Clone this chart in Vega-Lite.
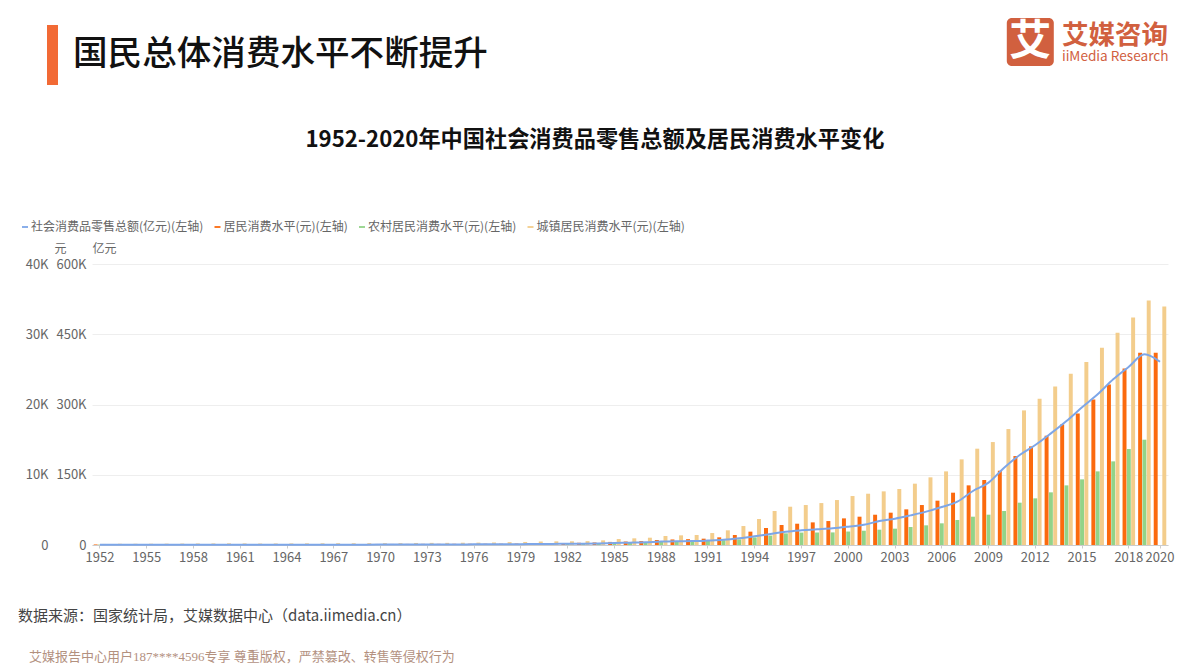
{
  "$schema": "https://vega.github.io/schema/vega-lite/v6.json",
  "autosize": {"type": "none"},
  "padding": {"left": 92, "top": 264, "right": 22, "bottom": 124},
  "width": 1076,
  "height": 281,
  "background": "#ffffff",
  "config": {
    "font": "Noto Sans CJK SC",
    "view": {"stroke": null}
  },
  "datasets": {
    "bars": [
      {"year":1952,"series":"居民消费水平(元)(左轴)","value":80},{"year":1953,"series":"居民消费水平(元)(左轴)","value":91},{"year":1954,"series":"居民消费水平(元)(左轴)","value":92},{"year":1955,"series":"居民消费水平(元)(左轴)","value":99},{"year":1956,"series":"居民消费水平(元)(左轴)","value":104},{"year":1957,"series":"居民消费水平(元)(左轴)","value":108},{"year":1958,"series":"居民消费水平(元)(左轴)","value":111},{"year":1959,"series":"居民消费水平(元)(左轴)","value":107},{"year":1960,"series":"居民消费水平(元)(左轴)","value":114},{"year":1961,"series":"居民消费水平(元)(左轴)","value":123},{"year":1962,"series":"居民消费水平(元)(左轴)","value":123},{"year":1963,"series":"居民消费水平(元)(左轴)","value":121},{"year":1964,"series":"居民消费水平(元)(左轴)","value":122},{"year":1965,"series":"居民消费水平(元)(左轴)","value":129},{"year":1966,"series":"居民消费水平(元)(左轴)","value":135},{"year":1967,"series":"居民消费水平(元)(左轴)","value":140},{"year":1968,"series":"居民消费水平(元)(左轴)","value":135},{"year":1969,"series":"居民消费水平(元)(左轴)","value":141},{"year":1970,"series":"居民消费水平(元)(左轴)","value":147},{"year":1971,"series":"居民消费水平(元)(左轴)","value":149},{"year":1972,"series":"居民消费水平(元)(左轴)","value":156},{"year":1973,"series":"居民消费水平(元)(左轴)","value":163},{"year":1974,"series":"居民消费水平(元)(左轴)","value":165},{"year":1975,"series":"居民消费水平(元)(左轴)","value":171},{"year":1976,"series":"居民消费水平(元)(左轴)","value":177},{"year":1977,"series":"居民消费水平(元)(左轴)","value":181},{"year":1978,"series":"居民消费水平(元)(左轴)","value":184},{"year":1979,"series":"居民消费水平(元)(左轴)","value":208},{"year":1980,"series":"居民消费水平(元)(左轴)","value":238},{"year":1981,"series":"居民消费水平(元)(左轴)","value":264},{"year":1982,"series":"居民消费水平(元)(左轴)","value":288},{"year":1983,"series":"居民消费水平(元)(左轴)","value":316},{"year":1984,"series":"居民消费水平(元)(左轴)","value":361},{"year":1985,"series":"居民消费水平(元)(左轴)","value":440},{"year":1986,"series":"居民消费水平(元)(左轴)","value":497},{"year":1987,"series":"居民消费水平(元)(左轴)","value":565},{"year":1988,"series":"居民消费水平(元)(左轴)","value":714},{"year":1989,"series":"居民消费水平(元)(左轴)","value":788},{"year":1990,"series":"居民消费水平(元)(左轴)","value":831},{"year":1991,"series":"居民消费水平(元)(左轴)","value":900},{"year":1992,"series":"居民消费水平(元)(左轴)","value":1090},{"year":1993,"series":"居民消费水平(元)(左轴)","value":1420},{"year":1994,"series":"居民消费水平(元)(左轴)","value":1900},{"year":1995,"series":"居民消费水平(元)(左轴)","value":2420},{"year":1996,"series":"居民消费水平(元)(左轴)","value":2845},{"year":1997,"series":"居民消费水平(元)(左轴)","value":3030},{"year":1998,"series":"居民消费水平(元)(左轴)","value":3220},{"year":1999,"series":"居民消费水平(元)(左轴)","value":3410},{"year":2000,"series":"居民消费水平(元)(左轴)","value":3790},{"year":2001,"series":"居民消费水平(元)(左轴)","value":4030},{"year":2002,"series":"居民消费水平(元)(左轴)","value":4310},{"year":2003,"series":"居民消费水平(元)(左轴)","value":4600},{"year":2004,"series":"居民消费水平(元)(左轴)","value":5075},{"year":2005,"series":"居民消费水平(元)(左轴)","value":5690},{"year":2006,"series":"居民消费水平(元)(左轴)","value":6310},{"year":2007,"series":"居民消费水平(元)(左轴)","value":7447},{"year":2008,"series":"居民消费水平(元)(左轴)","value":8490},{"year":2009,"series":"居民消费水平(元)(左轴)","value":9250},{"year":2010,"series":"居民消费水平(元)(左轴)","value":10577},{"year":2011,"series":"居民消费水平(元)(左轴)","value":12664},{"year":2012,"series":"居民消费水平(元)(左轴)","value":14040},{"year":2013,"series":"居民消费水平(元)(左轴)","value":15557},{"year":2014,"series":"居民消费水平(元)(左轴)","value":17170},{"year":2015,"series":"居民消费水平(元)(左轴)","value":18735},{"year":2016,"series":"居民消费水平(元)(左轴)","value":20727},{"year":2017,"series":"居民消费水平(元)(左轴)","value":22862},{"year":2018,"series":"居民消费水平(元)(左轴)","value":25140},{"year":2019,"series":"居民消费水平(元)(左轴)","value":27370},{"year":2020,"series":"居民消费水平(元)(左轴)","value":27370},
      {"year":1952,"series":"农村居民消费水平(元)(左轴)","value":65},{"year":1953,"series":"农村居民消费水平(元)(左轴)","value":72},{"year":1954,"series":"农村居民消费水平(元)(左轴)","value":72},{"year":1955,"series":"农村居民消费水平(元)(左轴)","value":76},{"year":1956,"series":"农村居民消费水平(元)(左轴)","value":78},{"year":1957,"series":"农村居民消费水平(元)(左轴)","value":79},{"year":1958,"series":"农村居民消费水平(元)(左轴)","value":83},{"year":1959,"series":"农村居民消费水平(元)(左轴)","value":65},{"year":1960,"series":"农村居民消费水平(元)(左轴)","value":68},{"year":1961,"series":"农村居民消费水平(元)(左轴)","value":82},{"year":1962,"series":"农村居民消费水平(元)(左轴)","value":88},{"year":1963,"series":"农村居民消费水平(元)(左轴)","value":89},{"year":1964,"series":"农村居民消费水平(元)(左轴)","value":95},{"year":1965,"series":"农村居民消费水平(元)(左轴)","value":100},{"year":1966,"series":"农村居民消费水平(元)(左轴)","value":106},{"year":1967,"series":"农村居民消费水平(元)(左轴)","value":110},{"year":1968,"series":"农村居民消费水平(元)(左轴)","value":105},{"year":1969,"series":"农村居民消费水平(元)(左轴)","value":108},{"year":1970,"series":"农村居民消费水平(元)(左轴)","value":114},{"year":1971,"series":"农村居民消费水平(元)(左轴)","value":116},{"year":1972,"series":"农村居民消费水平(元)(左轴)","value":116},{"year":1973,"series":"农村居民消费水平(元)(左轴)","value":123},{"year":1974,"series":"农村居民消费水平(元)(左轴)","value":123},{"year":1975,"series":"农村居民消费水平(元)(左轴)","value":124},{"year":1976,"series":"农村居民消费水平(元)(左轴)","value":125},{"year":1977,"series":"农村居民消费水平(元)(左轴)","value":124},{"year":1978,"series":"农村居民消费水平(元)(左轴)","value":138},{"year":1979,"series":"农村居民消费水平(元)(左轴)","value":159},{"year":1980,"series":"农村居民消费水平(元)(左轴)","value":178},{"year":1981,"series":"农村居民消费水平(元)(左轴)","value":201},{"year":1982,"series":"农村居民消费水平(元)(左轴)","value":223},{"year":1983,"series":"农村居民消费水平(元)(左轴)","value":250},{"year":1984,"series":"农村居民消费水平(元)(左轴)","value":287},{"year":1985,"series":"农村居民消费水平(元)(左轴)","value":347},{"year":1986,"series":"农村居民消费水平(元)(左轴)","value":376},{"year":1987,"series":"农村居民消费水平(元)(左轴)","value":417},{"year":1988,"series":"农村居民消费水平(元)(左轴)","value":508},{"year":1989,"series":"农村居民消费水平(元)(左轴)","value":553},{"year":1990,"series":"农村居民消费水平(元)(左轴)","value":560},{"year":1991,"series":"农村居民消费水平(元)(左轴)","value":602},{"year":1992,"series":"农村居民消费水平(元)(左轴)","value":688},{"year":1993,"series":"农村居民消费水平(元)(左轴)","value":805},{"year":1994,"series":"农村居民消费水平(元)(左轴)","value":1087},{"year":1995,"series":"农村居民消费水平(元)(左轴)","value":1344},{"year":1996,"series":"农村居民消费水平(元)(左轴)","value":1655},{"year":1997,"series":"农村居民消费水平(元)(左轴)","value":1768},{"year":1998,"series":"农村居民消费水平(元)(左轴)","value":1778},{"year":1999,"series":"农村居民消费水平(元)(左轴)","value":1793},{"year":2000,"series":"农村居民消费水平(元)(左轴)","value":1917},{"year":2001,"series":"农村居民消费水平(元)(左轴)","value":2032},{"year":2002,"series":"农村居民消费水平(元)(左轴)","value":2180},{"year":2003,"series":"农村居民消费水平(元)(左轴)","value":2325},{"year":2004,"series":"农村居民消费水平(元)(左轴)","value":2560},{"year":2005,"series":"农村居民消费水平(元)(左轴)","value":2800},{"year":2006,"series":"农村居民消费水平(元)(左轴)","value":3085},{"year":2007,"series":"农村居民消费水平(元)(左轴)","value":3555},{"year":2008,"series":"农村居民消费水平(元)(左轴)","value":4030},{"year":2009,"series":"农村居民消费水平(元)(左轴)","value":4315},{"year":2010,"series":"农村居民消费水平(元)(左轴)","value":4840},{"year":2011,"series":"农村居民消费水平(元)(左轴)","value":6025},{"year":2012,"series":"农村居民消费水平(元)(左轴)","value":6640},{"year":2013,"series":"农村居民消费水平(元)(左轴)","value":7495},{"year":2014,"series":"农村居民消费水平(元)(左轴)","value":8490},{"year":2015,"series":"农村居民消费水平(元)(左轴)","value":9345},{"year":2016,"series":"农村居民消费水平(元)(左轴)","value":10480},{"year":2017,"series":"农村居民消费水平(元)(左轴)","value":11905},{"year":2018,"series":"农村居民消费水平(元)(左轴)","value":13660},{"year":2019,"series":"农村居民消费水平(元)(左轴)","value":14990},
      {"year":1952,"series":"城镇居民消费水平(元)(左轴)","value":149},{"year":1953,"series":"城镇居民消费水平(元)(左轴)","value":181},{"year":1954,"series":"城镇居民消费水平(元)(左轴)","value":180},{"year":1955,"series":"城镇居民消费水平(元)(左轴)","value":183},{"year":1956,"series":"城镇居民消费水平(元)(左轴)","value":196},{"year":1957,"series":"城镇居民消费水平(元)(左轴)","value":205},{"year":1958,"series":"城镇居民消费水平(元)(左轴)","value":218},{"year":1959,"series":"城镇居民消费水平(元)(左轴)","value":225},{"year":1960,"series":"城镇居民消费水平(元)(左轴)","value":237},{"year":1961,"series":"城镇居民消费水平(元)(左轴)","value":229},{"year":1962,"series":"城镇居民消费水平(元)(左轴)","value":211},{"year":1963,"series":"城镇居民消费水平(元)(左轴)","value":221},{"year":1964,"series":"城镇居民消费水平(元)(左轴)","value":229},{"year":1965,"series":"城镇居民消费水平(元)(左轴)","value":237},{"year":1966,"series":"城镇居民消费水平(元)(左轴)","value":243},{"year":1967,"series":"城镇居民消费水平(元)(左轴)","value":255},{"year":1968,"series":"城镇居民消费水平(元)(左轴)","value":250},{"year":1969,"series":"城镇居民消费水平(元)(左轴)","value":262},{"year":1970,"series":"城镇居民消费水平(元)(左轴)","value":260},{"year":1971,"series":"城镇居民消费水平(元)(左轴)","value":267},{"year":1972,"series":"城镇居民消费水平(元)(左轴)","value":290},{"year":1973,"series":"城镇居民消费水平(元)(左轴)","value":304},{"year":1974,"series":"城镇居民消费水平(元)(左轴)","value":305},{"year":1975,"series":"城镇居民消费水平(元)(左轴)","value":324},{"year":1976,"series":"城镇居民消费水平(元)(左轴)","value":340},{"year":1977,"series":"城镇居民消费水平(元)(左轴)","value":360},{"year":1978,"series":"城镇居民消费水平(元)(左轴)","value":405},{"year":1979,"series":"城镇居民消费水平(元)(左轴)","value":434},{"year":1980,"series":"城镇居民消费水平(元)(左轴)","value":496},{"year":1981,"series":"城镇居民消费水平(元)(左轴)","value":520},{"year":1982,"series":"城镇居民消费水平(元)(左轴)","value":526},{"year":1983,"series":"城镇居民消费水平(元)(左轴)","value":547},{"year":1984,"series":"城镇居民消费水平(元)(左轴)","value":660},{"year":1985,"series":"城镇居民消费水平(元)(左轴)","value":850},{"year":1986,"series":"城镇居民消费水平(元)(左轴)","value":950},{"year":1987,"series":"城镇居民消费水平(元)(左轴)","value":1040},{"year":1988,"series":"城镇居民消费水平(元)(左轴)","value":1280},{"year":1989,"series":"城镇居民消费水平(元)(左轴)","value":1375},{"year":1990,"series":"城镇居民消费水平(元)(左轴)","value":1420},{"year":1991,"series":"城镇居民消费水平(元)(左轴)","value":1700},{"year":1992,"series":"城镇居民消费水平(元)(左轴)","value":2090},{"year":1993,"series":"城镇居民消费水平(元)(左轴)","value":2700},{"year":1994,"series":"城镇居民消费水平(元)(左轴)","value":3700},{"year":1995,"series":"城镇居民消费水平(元)(左轴)","value":4840},{"year":1996,"series":"城镇居民消费水平(元)(左轴)","value":5450},{"year":1997,"series":"城镇居民消费水平(元)(左轴)","value":5690},{"year":1998,"series":"城镇居民消费水平(元)(左轴)","value":5970},{"year":1999,"series":"城镇居民消费水平(元)(左轴)","value":6400},{"year":2000,"series":"城镇居民消费水平(元)(左轴)","value":6970},{"year":2001,"series":"城镇居民消费水平(元)(左轴)","value":7300},{"year":2002,"series":"城镇居民消费水平(元)(左轴)","value":7635},{"year":2003,"series":"城镇居民消费水平(元)(左轴)","value":7970},{"year":2004,"series":"城镇居民消费水平(元)(左轴)","value":8730},{"year":2005,"series":"城镇居民消费水平(元)(左轴)","value":9630},{"year":2006,"series":"城镇居民消费水平(元)(左轴)","value":10480},{"year":2007,"series":"城镇居民消费水平(元)(左轴)","value":12190},{"year":2008,"series":"城镇居民消费水平(元)(左轴)","value":13710},{"year":2009,"series":"城镇居民消费水平(元)(左轴)","value":14655},{"year":2010,"series":"城镇居民消费水平(元)(左轴)","value":16505},{"year":2011,"series":"城镇居民消费水平(元)(左轴)","value":19160},{"year":2012,"series":"城镇居民消费水平(元)(左轴)","value":20820},{"year":2013,"series":"城镇居民消费水平(元)(左轴)","value":22575},{"year":2014,"series":"城镇居民消费水平(元)(左轴)","value":24380},{"year":2015,"series":"城镇居民消费水平(元)(左轴)","value":26040},{"year":2016,"series":"城镇居民消费水平(元)(左轴)","value":28080},{"year":2017,"series":"城镇居民消费水平(元)(左轴)","value":30210},{"year":2018,"series":"城镇居民消费水平(元)(左轴)","value":32395},{"year":2019,"series":"城镇居民消费水平(元)(左轴)","value":34810},{"year":2020,"series":"城镇居民消费水平(元)(左轴)","value":33960}
    ],
    "retail": [
      {"year":1952,"series":"社会消费品零售总额(亿元)(左轴)","value":277},{"year":1953,"series":"社会消费品零售总额(亿元)(左轴)","value":348},{"year":1954,"series":"社会消费品零售总额(亿元)(左轴)","value":381},{"year":1955,"series":"社会消费品零售总额(亿元)(左轴)","value":392},{"year":1956,"series":"社会消费品零售总额(亿元)(左轴)","value":461},{"year":1957,"series":"社会消费品零售总额(亿元)(左轴)","value":474},{"year":1958,"series":"社会消费品零售总额(亿元)(左轴)","value":548},{"year":1959,"series":"社会消费品零售总额(亿元)(左轴)","value":638},{"year":1960,"series":"社会消费品零售总额(亿元)(左轴)","value":696},{"year":1961,"series":"社会消费品零售总额(亿元)(左轴)","value":607},{"year":1962,"series":"社会消费品零售总额(亿元)(左轴)","value":604},{"year":1963,"series":"社会消费品零售总额(亿元)(左轴)","value":605},{"year":1964,"series":"社会消费品零售总额(亿元)(左轴)","value":638},{"year":1965,"series":"社会消费品零售总额(亿元)(左轴)","value":670},{"year":1966,"series":"社会消费品零售总额(亿元)(左轴)","value":732},{"year":1967,"series":"社会消费品零售总额(亿元)(左轴)","value":770},{"year":1968,"series":"社会消费品零售总额(亿元)(左轴)","value":737},{"year":1969,"series":"社会消费品零售总额(亿元)(左轴)","value":801},{"year":1970,"series":"社会消费品零售总额(亿元)(左轴)","value":859},{"year":1971,"series":"社会消费品零售总额(亿元)(左轴)","value":929},{"year":1972,"series":"社会消费品零售总额(亿元)(左轴)","value":1023},{"year":1973,"series":"社会消费品零售总额(亿元)(左轴)","value":1107},{"year":1974,"series":"社会消费品零售总额(亿元)(左轴)","value":1163},{"year":1975,"series":"社会消费品零售总额(亿元)(左轴)","value":1271},{"year":1976,"series":"社会消费品零售总额(亿元)(左轴)","value":1339},{"year":1977,"series":"社会消费品零售总额(亿元)(左轴)","value":1433},{"year":1978,"series":"社会消费品零售总额(亿元)(左轴)","value":1559},{"year":1979,"series":"社会消费品零售总额(亿元)(左轴)","value":1800},{"year":1980,"series":"社会消费品零售总额(亿元)(左轴)","value":2140},{"year":1981,"series":"社会消费品零售总额(亿元)(左轴)","value":2350},{"year":1982,"series":"社会消费品零售总额(亿元)(左轴)","value":2570},{"year":1983,"series":"社会消费品零售总额(亿元)(左轴)","value":2849},{"year":1984,"series":"社会消费品零售总额(亿元)(左轴)","value":3376},{"year":1985,"series":"社会消费品零售总额(亿元)(左轴)","value":4305},{"year":1986,"series":"社会消费品零售总额(亿元)(左轴)","value":4950},{"year":1987,"series":"社会消费品零售总额(亿元)(左轴)","value":5820},{"year":1988,"series":"社会消费品零售总额(亿元)(左轴)","value":7440},{"year":1989,"series":"社会消费品零售总额(亿元)(左轴)","value":8101},{"year":1990,"series":"社会消费品零售总额(亿元)(左轴)","value":8300},{"year":1991,"series":"社会消费品零售总额(亿元)(左轴)","value":9416},{"year":1992,"series":"社会消费品零售总额(亿元)(左轴)","value":10994},{"year":1993,"series":"社会消费品零售总额(亿元)(左轴)","value":14270},{"year":1994,"series":"社会消费品零售总额(亿元)(左轴)","value":18623},{"year":1995,"series":"社会消费品零售总额(亿元)(左轴)","value":23614},{"year":1996,"series":"社会消费品零售总额(亿元)(左轴)","value":28360},{"year":1997,"series":"社会消费品零售总额(亿元)(左轴)","value":31253},{"year":1998,"series":"社会消费品零售总额(亿元)(左轴)","value":33378},{"year":1999,"series":"社会消费品零售总额(亿元)(左轴)","value":35648},{"year":2000,"series":"社会消费品零售总额(亿元)(左轴)","value":39106},{"year":2001,"series":"社会消费品零售总额(亿元)(左轴)","value":43055},{"year":2002,"series":"社会消费品零售总额(亿元)(左轴)","value":51200},{"year":2003,"series":"社会消费品零售总额(亿元)(左轴)","value":56200},{"year":2004,"series":"社会消费品零售总额(亿元)(左轴)","value":63300},{"year":2005,"series":"社会消费品零售总额(亿元)(左轴)","value":71200},{"year":2006,"series":"社会消费品零售总额(亿元)(左轴)","value":81100},{"year":2007,"series":"社会消费品零售总额(亿元)(左轴)","value":92500},{"year":2008,"series":"社会消费品零售总额(亿元)(左轴)","value":115300},{"year":2009,"series":"社会消费品零售总额(亿元)(左轴)","value":133100},{"year":2010,"series":"社会消费品零售总额(亿元)(左轴)","value":165100},{"year":2011,"series":"社会消费品零售总额(亿元)(左轴)","value":192200},{"year":2012,"series":"社会消费品零售总额(亿元)(左轴)","value":213500},{"year":2013,"series":"社会消费品零售总额(亿元)(左轴)","value":238400},{"year":2014,"series":"社会消费品零售总额(亿元)(左轴)","value":264800},{"year":2015,"series":"社会消费品零售总额(亿元)(左轴)","value":293900},{"year":2016,"series":"社会消费品零售总额(亿元)(左轴)","value":321700},{"year":2017,"series":"社会消费品零售总额(亿元)(左轴)","value":353700},{"year":2018,"series":"社会消费品零售总额(亿元)(左轴)","value":380800},{"year":2019,"series":"社会消费品零售总额(亿元)(左轴)","value":407100},{"year":2020,"series":"社会消费品零售总额(亿元)(左轴)","value":391400}
    ]
  },
  "layer": [
    {
      "layer": [
        {
          "data": {"name": "bars"},
          "mark": {"type": "bar"},
          "encoding": {
            "x": {
              "field": "year",
              "type": "ordinal",
              "scale": {"paddingInner": 0.17, "paddingOuter": 0.098},
              "axis": {
                "title": null,
                "values": [1952,1955,1958,1961,1964,1967,1970,1973,1976,1979,1982,1985,1988,1991,1994,1997,2000,2003,2006,2009,2012,2015,2018,2020],
                "labelAngle": 0,
                "labelFontSize": 13,
                "labelColor": "#666666",
                "labelOverlap": false,
                "labelPadding": 3,
                "tickColor": "#cccccc",
                "tickSize": 3,
                "domainColor": "#cccccc",
                "grid": false
              }
            },
            "xOffset": {
              "field": "series",
              "type": "nominal",
              "scale": {
                "domain": ["居民消费水平(元)(左轴)", "农村居民消费水平(元)(左轴)", "城镇居民消费水平(元)(左轴)"],
                "paddingInner": 0.08,
                "paddingOuter": 0.045
              }
            },
            "y": {
              "field": "value",
              "type": "quantitative",
              "scale": {"domain": [0, 40000], "nice": false},
              "axis": {
                "title": "元",
                "titleAngle": 0,
                "titleX": 6,
                "titleY": -16,
                "titleAlign": "center",
                "titleBaseline": "middle",
                "titleFontSize": 12,
                "titleFontWeight": "normal",
                "titleColor": "#666666",
                "values": [0, 10000, 20000, 30000, 40000],
                "labelExpr": "datum.value === 0 ? '0' : datum.value / 1000 + 'K'",
                "labelFontSize": 13,
                "labelColor": "#666666",
                "labelPadding": 6,
                "offset": 38,
                "domain": false,
                "ticks": false,
                "grid": true,
                "gridColor": "#eeeeee"
              }
            },
            "color": {
              "field": "series",
              "type": "nominal",
              "scale": {
                "domain": ["社会消费品零售总额(亿元)(左轴)", "居民消费水平(元)(左轴)", "农村居民消费水平(元)(左轴)", "城镇居民消费水平(元)(左轴)"],
                "range": ["#7da6e8", "#fb6a0e", "#93d388", "#f3cd8c"]
              },
              "legend": {
                "title": null,
                "orient": "none",
                "legendX": -73,
                "legendY": -43,
                "columns": 4,
                "columnPadding": 7.5,
                "symbolType": "M-1,-0.3H1V0.3H-1Z",
                "symbolSize": 36,
                "symbolStrokeWidth": 0,
                "labelFontSize": 12,
                "labelColor": "#666666",
                "labelOffset": 0,
                "labelLimit": 0,
                "padding": 0
              }
            }
          }
        },
        {
          "data": {"values": [{"label": "国民总体消费水平不断提升"}]},
          "mark": {"type": "text", "align": "left", "dx": -27, "fontSize": 34.6, "fontWeight": 500, "color": "#111111"},
          "encoding": {
            "x": {"datum": 1952, "type": "ordinal"},
            "y": {"datum": 69750},
            "text": {"field": "label"}
          }
        },
        {
          "data": {"values": [{"label": "1952-2020年中国社会消费品零售总额及居民消费水平变化"}]},
          "mark": {"type": "text", "dx": -3.9, "fontSize": 22.2, "fontWeight": "bold", "color": "#111111"},
          "encoding": {
            "x": {"datum": 1984, "type": "ordinal"},
            "y": {"datum": 57650},
            "text": {"field": "label"}
          }
        },
        {
          "data": {"values": [{"label": "header accent"}]},
          "mark": {"type": "bar", "width": 11, "xOffset": -47.5, "color": "#f26a35"},
          "encoding": {
            "x": {"datum": 1952, "type": "ordinal"},
            "y": {"datum": 74020},
            "y2": {"datum": 65480}
          }
        },
        {
          "data": {"values": [{"label": "logo"}]},
          "mark": {"type": "bar", "width": 47, "xOffset": -5, "cornerRadius": 5, "color": "#d1603f"},
          "encoding": {
            "x": {"datum": 2012, "type": "ordinal"},
            "y": {"datum": 75020},
            "y2": {"datum": 68190}
          }
        },
        {
          "data": {"values": [{"label": "艾"}]},
          "mark": {"type": "text", "dx": -5, "fontSize": 42, "fontWeight": "bold", "color": "#ffffff"},
          "encoding": {
            "x": {"datum": 2012, "type": "ordinal"},
            "y": {"datum": 71600},
            "text": {"field": "label"}
          }
        },
        {
          "data": {"values": [{"label": "艾媒咨询"}]},
          "mark": {"type": "text", "align": "left", "dx": 26.6, "fontSize": 26.5, "fontWeight": "bold", "color": "#d1603f"},
          "encoding": {
            "x": {"datum": 2012, "type": "ordinal"},
            "y": {"datum": 72460},
            "text": {"field": "label"}
          }
        },
        {
          "data": {"values": [{"label": "iiMedia Research"}]},
          "mark": {"type": "text", "align": "left", "dx": 26.6, "fontSize": 13.6, "color": "#d1603f"},
          "encoding": {
            "x": {"datum": 2012, "type": "ordinal"},
            "y": {"datum": 69470},
            "text": {"field": "label"}
          }
        },
        {
          "data": {"values": [{"label": "数据来源：国家统计局，艾媒数据中心（data.iimedia.cn）"}]},
          "mark": {"type": "text", "align": "left", "dx": -82, "fontSize": 15, "color": "#444444"},
          "encoding": {
            "x": {"datum": 1952, "type": "ordinal"},
            "y": {"datum": -10100},
            "text": {"field": "label"}
          }
        },
        {
          "data": {"values": [{"label": "艾媒报告中心用户187****4596专享 尊重版权，严禁篡改、转售等侵权行为"}]},
          "mark": {"type": "text", "align": "left", "dx": -71, "fontSize": 13, "font": "Liberation Serif, Noto Sans CJK SC", "color": "#b3917f"},
          "encoding": {
            "x": {"datum": 1952, "type": "ordinal"},
            "y": {"datum": -15940},
            "text": {"field": "label"}
          }
        }
      ]
    },
    {
      "data": {"name": "retail"},
      "mark": {"type": "line", "interpolate": "monotone", "strokeWidth": 2},
      "encoding": {
        "x": {"field": "year", "type": "ordinal"},
        "y": {
          "field": "value",
          "type": "quantitative",
          "scale": {"domain": [0, 600000], "nice": false},
          "axis": {
            "orient": "left",
            "title": "亿元",
            "titleAngle": 0,
            "titleX": 12,
            "titleY": -16,
            "titleAlign": "center",
            "titleBaseline": "middle",
            "titleFontSize": 12,
            "titleFontWeight": "normal",
            "titleColor": "#666666",
            "values": [0, 150000, 300000, 450000, 600000],
            "labelExpr": "datum.value === 0 ? '0' : datum.value / 1000 + 'K'",
            "labelFontSize": 13,
            "labelColor": "#666666",
            "labelPadding": 6,
            "domain": false,
            "ticks": false,
            "grid": false
          }
        },
        "color": {"field": "series", "type": "nominal", "legend": null}
      }
    }
  ],
  "resolve": {"scale": {"y": "independent"}, "axis": {"y": "independent"}}
}
